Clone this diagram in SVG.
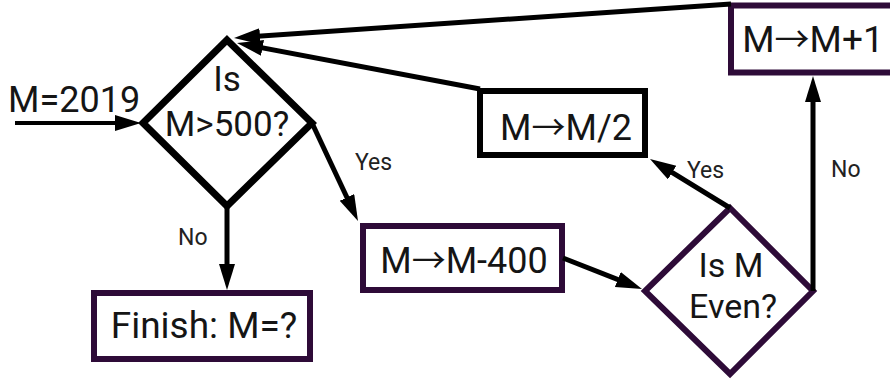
<svg xmlns="http://www.w3.org/2000/svg" width="890" height="379" viewBox="0 0 890 379">
  <defs>
    <style>
      .bg { fill: #ffffff; }
      .node-black { fill: #ffffff; stroke: #000000; stroke-width: 7; stroke-linejoin: miter; }
      .box-black { fill: #ffffff; stroke: #000000; stroke-width: 6; }
      .node-purple { fill: #ffffff; stroke: #2e0b38; stroke-width: 6; stroke-linejoin: miter; }
      .txt { font-family: Roboto, "Liberation Sans", sans-serif; fill: #151515; text-anchor: middle; }
      .arr { font-family: "Noto Sans CJK SC", sans-serif; font-weight: normal; }
      .lbl { font-family: Roboto, "Liberation Sans", sans-serif; fill: #222222; font-size: 23px; }
      .conn { stroke: #000000; stroke-width: 5; fill: none; marker-end: url(#arrow); }
    </style>
    <marker id="arrow" markerUnits="userSpaceOnUse" markerWidth="28" markerHeight="18" refX="16" refY="8" orient="auto">
      <path d="M0,0 L26,8 L0,16 Z" fill="#000000"/>
    </marker>
  </defs>
  <rect class="bg" x="0" y="0" width="890" height="379"/>

  <g id="d1">
    <polygon class="node-black" points="227,40 312,123 227,206 143,123"/>
    <text class="txt" x="227" y="91" font-size="35">Is</text>
    <text class="txt" x="227" y="136" font-size="35">M&gt;500?</text>
  </g>

  <g id="finish">
    <rect class="node-purple" x="94" y="293" width="216" height="66"/>
    <text class="txt" x="204" y="338" font-size="37">Finish: M=?</text>
  </g>

  <g id="m400">
    <rect class="node-purple" x="363" y="226" width="199" height="64"/>
    <text class="txt" x="464" y="273" font-size="36">M<tspan class="arr" font-size="34">→</tspan>M-400</text>
  </g>

  <g id="m2">
    <rect class="box-black" x="480" y="91" width="165" height="64"/>
    <text class="txt" x="566" y="140" font-size="36">M<tspan class="arr" font-size="34">→</tspan>M/2</text>
  </g>

  <g id="m1">
    <rect class="node-purple" x="731" y="5.5" width="200" height="67"/>
    <text class="txt" x="813" y="52" font-size="37">M<tspan class="arr" font-size="35">→</tspan>M+1</text>
  </g>

  <g id="d2">
    <polygon class="node-purple" points="730,208 813,291 730,374 645,291"/>
    <text class="txt" x="731" y="277" font-size="34">Is M</text>
    <text class="txt" x="733" y="318" font-size="34">Even?</text>
  </g>

  <g id="connectors">
    <text x="8" y="112" font-size="36" font-family="Roboto, 'Liberation Sans', sans-serif" fill="#151515">M=2019</text>
    <line class="conn" x1="15" y1="123" x2="131" y2="123" style="stroke-width:4"/>
    <line class="conn" x1="312" y1="123" x2="353.75" y2="211.95"/>
    <text class="lbl" x="355" y="170">Yes</text>
    <line class="conn" x1="227" y1="206" x2="227" y2="280"/>
    <text class="lbl" x="178" y="245">No</text>
    <line class="conn" x1="563" y1="258" x2="632.7" y2="285.35"/>
    <line class="conn" x1="730" y1="208" x2="658.5" y2="164.2"/>
    <text class="lbl" x="687" y="178">Yes</text>
    <line class="conn" x1="813" y1="291" x2="813" y2="86"/>
    <text class="lbl" x="831" y="177">No</text>
    <line class="conn" x1="731" y1="4" x2="244" y2="37.3"/>
    <line class="conn" x1="480" y1="89" x2="246.8" y2="44.9"/>
  </g>
</svg>
